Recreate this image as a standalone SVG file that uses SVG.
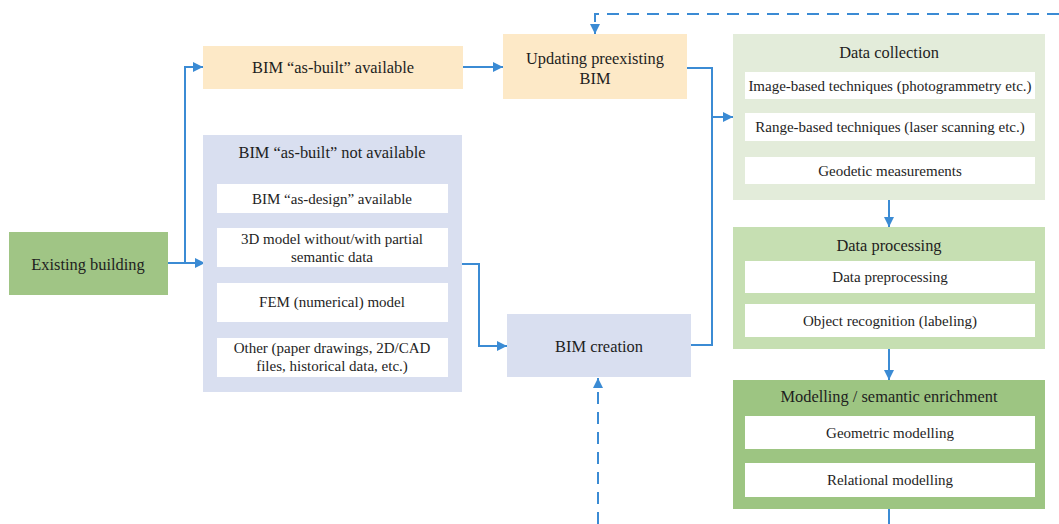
<svg xmlns="http://www.w3.org/2000/svg" width="1059" height="524" viewBox="0 0 1059 524" font-family="Liberation Serif, DejaVu Serif, serif">
  <defs>
    <marker id="arrow" viewBox="0 0 10 10" refX="10" refY="5" markerWidth="10" markerHeight="10" markerUnits="userSpaceOnUse" orient="auto">
      <path d="M0,0 L10,5 L0,10 z" fill="#3b8bd4"/>
    </marker>
    <style>
      .lbl { font-size: 15px; fill: #1e1e1e; text-anchor: middle; dominant-baseline: central; }
      .big { font-size: 16.4px; }
      .yellow { fill: #fde9c7; }
      .blue { fill: #d9dff0; }
      .green { fill: #a0c585; }
      .dc { fill: #e3ecda; }
      .dp { fill: #c6dfb2; }
      .mod { fill: #9dc582; }
      .sub { fill: #ffffff; }
      .conn { fill: none; stroke: #3b8bd4; stroke-width: 2; }
      .dash { stroke-dasharray: 12 8; }
    </style>
  </defs>

  <!-- connectors -->
  <g id="connectors">
    <path class="conn" d="M168,263 H185 V67 H203" marker-end="url(#arrow)"/>
    <path class="conn" d="M185,263 H205" marker-end="url(#arrow)"/>
    <path class="conn" d="M463,67 H503" marker-end="url(#arrow)"/>
    <path class="conn" d="M462,264 H479 V346 H507" marker-end="url(#arrow)"/>
    <path class="conn" d="M687,68 H712 V345 H691"/>
    <path class="conn" d="M712,117 H733" marker-end="url(#arrow)"/>
    <path class="conn" d="M889,200 V227" marker-end="url(#arrow)"/>
    <path class="conn" d="M889,349 V380" marker-end="url(#arrow)"/>
    <path class="conn" d="M889,509 V524"/>
    <path class="conn dash" d="M598,524 V378" marker-end="url(#arrow)"/>
    <path class="conn dash" d="M1059,14 H595 V34" marker-end="url(#arrow)"/>
  </g>

  <g id="existing-building">
    <rect class="green" x="9" y="232" width="159" height="63"/>
    <text class="lbl big" x="88" y="264">Existing building</text>
  </g>

  <g id="asbuilt-available">
    <rect class="yellow" x="203" y="46" width="260" height="43"/>
    <text class="lbl big" x="333" y="67">BIM “as-built” available</text>
  </g>

  <g id="asbuilt-not-available">
    <rect class="blue" x="203" y="135" width="259" height="257"/>
    <text class="lbl big" x="332" y="152">BIM “as-built” not available</text>
    <rect class="sub" x="217" y="184" width="231" height="29"/>
    <text class="lbl" x="332" y="199">BIM “as-design” available</text>
    <rect class="sub" x="217" y="228" width="231" height="39"/>
    <text class="lbl" x="332" y="239">3D model without/with partial</text>
    <text class="lbl" x="332" y="257">semantic data</text>
    <rect class="sub" x="217" y="283" width="231" height="39"/>
    <text class="lbl" x="332" y="302">FEM (numerical) model</text>
    <rect class="sub" x="217" y="338" width="231" height="39"/>
    <text class="lbl" x="332" y="348">Other (paper drawings, 2D/CAD</text>
    <text class="lbl" x="332" y="366">files, historical data, etc.)</text>
  </g>

  <g id="updating-bim">
    <rect class="yellow" x="503" y="34" width="184" height="65"/>
    <text class="lbl big" x="595" y="58">Updating preexisting</text>
    <text class="lbl big" x="595" y="78">BIM</text>
  </g>

  <g id="bim-creation">
    <rect class="blue" x="507" y="314" width="184" height="63"/>
    <text class="lbl big" x="599" y="346">BIM creation</text>
  </g>

  <g id="data-collection">
    <rect class="dc" x="733" y="34" width="312" height="166"/>
    <text class="lbl big" x="889" y="52">Data collection</text>
    <rect class="sub" x="745" y="72" width="290" height="27"/>
    <text class="lbl" x="890" y="86">Image-based techniques (photogrammetry etc.)</text>
    <rect class="sub" x="745" y="113" width="290" height="28"/>
    <text class="lbl" x="890" y="127">Range-based techniques (laser scanning etc.)</text>
    <rect class="sub" x="745" y="157" width="290" height="27"/>
    <text class="lbl" x="890" y="171">Geodetic measurements</text>
  </g>

  <g id="data-processing">
    <rect class="dp" x="733" y="227" width="312" height="122"/>
    <text class="lbl big" x="889" y="245">Data processing</text>
    <rect class="sub" x="745" y="261" width="290" height="32"/>
    <text class="lbl" x="890" y="277">Data preprocessing</text>
    <rect class="sub" x="745" y="304" width="290" height="33"/>
    <text class="lbl" x="890" y="321">Object recognition (labeling)</text>
  </g>

  <g id="modelling">
    <rect class="mod" x="733" y="380" width="312" height="129"/>
    <text class="lbl big" x="889" y="396">Modelling / semantic enrichment</text>
    <rect class="sub" x="745" y="416" width="290" height="33"/>
    <text class="lbl" x="890" y="433">Geometric modelling</text>
    <rect class="sub" x="745" y="463" width="290" height="34"/>
    <text class="lbl" x="890" y="480">Relational modelling</text>
  </g>
</svg>
